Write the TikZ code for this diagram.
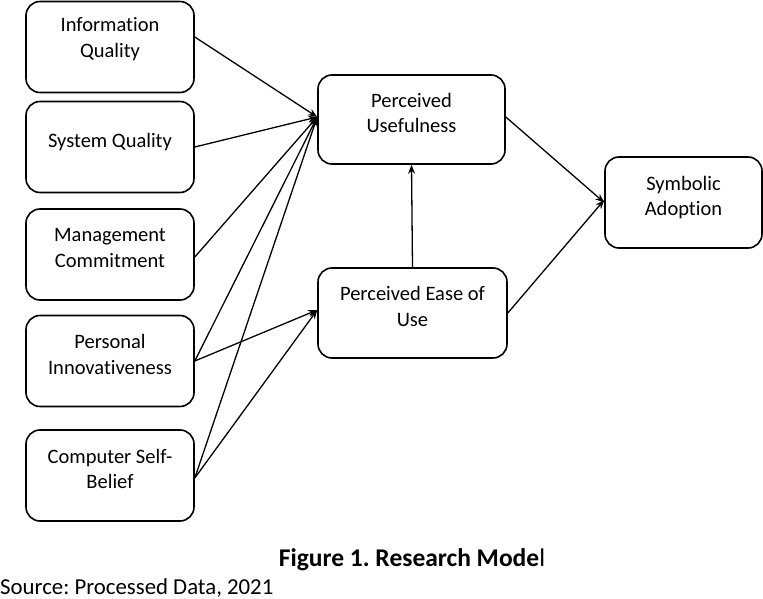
\documentclass[tikz,border=0pt]{standalone}
\usepackage{fontspec}
\setmainfont{Carlito}[Ligatures=NoCommon]
\frenchspacing
\usetikzlibrary{arrows.meta}
\begin{document}
\begin{tikzpicture}[x=1pt,y=-1pt,
  font=\fontsize{20.5}{25.5}\selectfont,
  box/.style={draw, line width=1.6pt, rounded corners=14pt, align=center,
    inner sep=2pt, execute at end node={\rule[-13pt]{0pt}{0pt}}},
  lbox/.style={box, minimum width=168pt, minimum height=91pt},
  arr/.style={line width=1.3pt, -{Stealth[length=9pt,width=7pt]}}]
\useasboundingbox (0,0) rectangle (763,599);
\node[lbox, execute at end node={\rule[-19pt]{0pt}{0pt}}] (iq)  at (110,47) {Information\\Quality};
\node[lbox] (sq)  at (110,147)   {System Quality};
\node[lbox] (mc)  at (110,254.5) {Management\\Commitment};
\node[lbox] (pi)  at (110,361)   {Personal\\Innovativeness};
\node[lbox] (csb) at (110,475.5) {Computer Self-\\Belief};
\node[box, minimum width=187pt, minimum height=89pt] (pu) at (411.5,119.5) {Perceived\\Usefulness};
\node[box, minimum width=189pt, minimum height=90pt] (peou) at (412.5,313) {Perceived Ease of\\Use};
\node[box, minimum width=157pt, minimum height=91pt] (sa) at (683.5,202.5) {Symbolic\\Adoption};
\draw[arr] ([yshift=10pt]iq.east) -- ([yshift=2.5pt]pu.west);
\draw[arr] (sq.east) -- ([yshift=2.5pt]pu.west);
\draw[arr] ([yshift=-2.5pt]mc.east) -- ([yshift=2.5pt]pu.west);
\draw[arr] (pi.east) -- ([yshift=2.5pt]pu.west);
\draw[arr] (pi.east) -- ([yshift=3pt]peou.west);
\draw[arr] ([yshift=-2.5pt]csb.east) -- ([yshift=2.5pt]pu.west);
\draw[arr] ([yshift=-2.5pt]csb.east) -- ([yshift=3pt]peou.west);
\draw[arr] (peou.north) -- (pu.south);
\draw[arr] ([yshift=2.5pt]pu.east) -- (sa.west);
\draw[arr] (peou.east) -- ([yshift=2.5pt]sa.west);
\node[font=\fontsize{25.5}{30}\selectfont\bfseries] (cap) at (412,560) {Figure 1. Research Mode\textmd{l}};
\node[anchor=west, inner sep=0pt, font=\fontsize{22.8}{27}\selectfont] (src) at (0,588) {Source: Processed Data, 2021};
\end{tikzpicture}
\end{document}
